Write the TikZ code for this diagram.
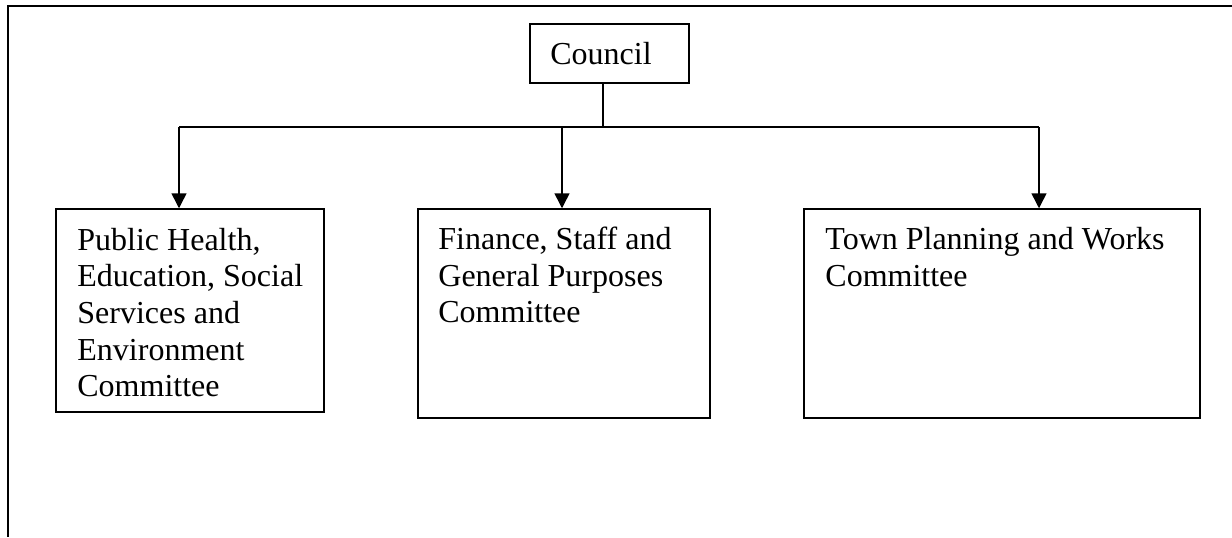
\documentclass[tikz,border=0pt]{standalone}
\usepackage{fontspec}
\setmainfont{Liberation Serif}
\usetikzlibrary{arrows.meta}
\begin{document}
\begin{tikzpicture}[x=0.5pt,y=-0.5pt,
  frame/.style={line width=1pt},
  boxstyle/.style={draw, line width=0.75pt, inner sep=0pt, rectangle},
  lbl/.style={inner sep=0pt, anchor=base west, align=left,
    font=\fontsize{16pt}{18.35pt}\selectfont},
  conn/.style={line width=0.75pt},
  arr/.style={conn, -{Triangle[length=7.5pt,width=7.5pt]}}]
\useasboundingbox (0,0) rectangle (1232,537);
% outer frame (top and left only)
\coordinate (ftl) at (7.5,5.5);
\coordinate (ftr) at (1232,5.5);
\coordinate (fbl) at (7.5,537);
\draw[frame] (ftr) -- (ftl) -- (fbl);
% boxes
\node[boxstyle, minimum width=79.5pt, minimum height=29.5pt] (council) at (609.5,53.5) {};
\node[boxstyle, minimum width=134pt, minimum height=101.5pt] (b1) at (190,310.5) {};
\node[boxstyle, minimum width=146pt, minimum height=104.5pt] (b2) at (564,313.5) {};
\node[boxstyle, minimum width=198pt, minimum height=104.5pt] (b3) at (1002,313.5) {};
% texts (anchored at the baseline of the last line)
\node[lbl] (t0) at (550,64) {Council};
\node[lbl] (t1) at (77,396.8) {Public Health,\\Education, Social\\Services and\\Environment\\Committee};
\node[lbl] (t2) at (438,322.7) {Finance, Staff and\\General Purposes\\Committee};
\node[lbl] (t3) at (825,286) {Town Planning and Works\\Committee};
% connectors
\coordinate (j) at (603,127);
\coordinate (jl) at (179,127);
\coordinate (jm) at (562,127);
\coordinate (jr) at (1039,127);
\draw[conn] (council.south -| j) -- (j);
\draw[conn] (jl) -- (jr);
\draw[arr] (jl) -- (b1.north -| jl);
\draw[arr] (jm) -- (b2.north -| jm);
\draw[arr] (jr) -- (b3.north -| jr);
\end{tikzpicture}
\end{document}
